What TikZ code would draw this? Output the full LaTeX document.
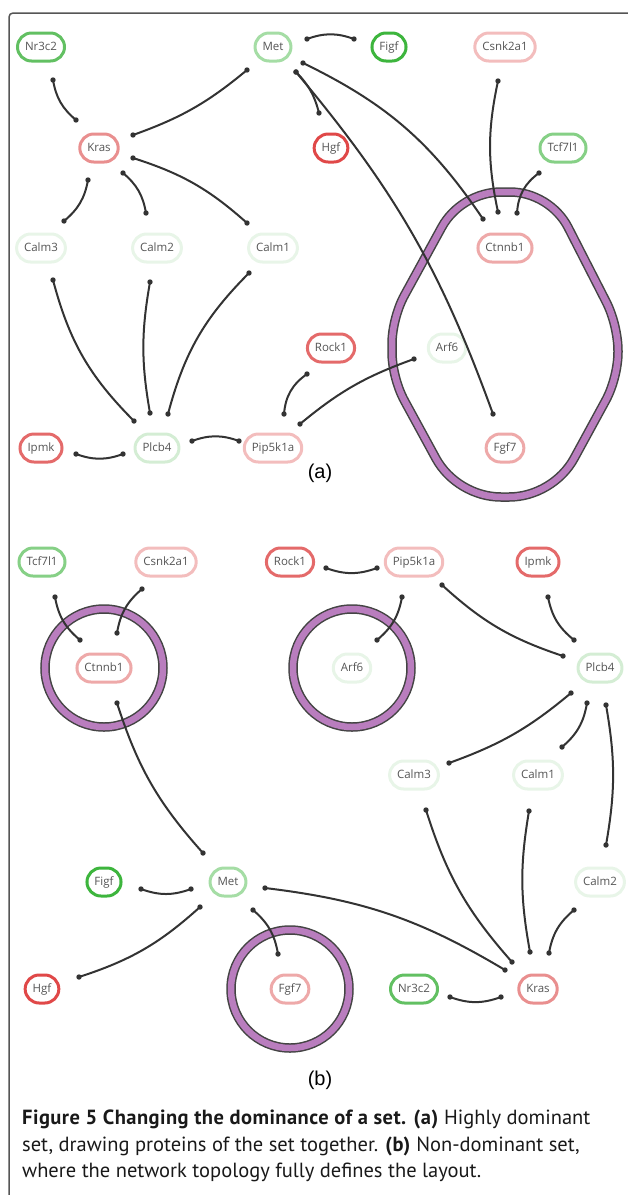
\documentclass[tikz,border=0pt]{standalone}
\usepackage{fontspec}
\usetikzlibrary{calc}
\newfontfamily\nodefont{Open Sans}
\newfontfamily\capfont[BoldFeatures={LetterSpace=2.2}]{PT Sans}
\newfontfamily\labfont{Liberation Sans}
\definecolor{gStrong}{HTML}{3DB53D}
\definecolor{gMid}{HTML}{62C062}
\definecolor{gTcf}{HTML}{86D086}
\definecolor{gLight}{HTML}{A5DDA5}
\definecolor{gPale}{HTML}{D4EDD4}
\definecolor{gVery}{HTML}{E8F5E8}
\definecolor{rStrong}{HTML}{E04848}
\definecolor{rMid}{HTML}{E46A6A}
\definecolor{rPink}{HTML}{E98F8F}
\definecolor{rPink2}{HTML}{EEA9A9}
\definecolor{rPale}{HTML}{F3BDBD}
\definecolor{txt}{HTML}{555555}
\definecolor{edgec}{HTML}{333333}
\definecolor{ringdark}{HTML}{444444}
\definecolor{ringpurple}{RGB}{185,125,190}
\definecolor{framec}{HTML}{555555}
\tikzset{
  prot/.style={draw=#1, line width=3pt, rounded corners=14pt, fill=white,
    minimum height=28pt, inner xsep=7.5pt, inner ysep=0pt, text=txt,
    text height=8.5pt, text depth=2.5pt,
    font=\nodefont\fontsize{11.5}{13}\selectfont},
  edge/.style={draw=edgec, line width=2pt},
  enddot/.style={fill=edgec},
  ringout/.style={draw=ringdark, line width=9.5pt},
  ringin/.style={draw=ringpurple, line width=6.5pt},
  panlab/.style={font=\labfont\fontsize{20}{24}\selectfont, text=black},
  capline/.style={anchor=base west, inner sep=0pt, text=black!90, font=\capfont\fontsize{20.5}{24}\selectfont}
}
\newcommand\lnk[3]{%
  \draw[edge] #1 to[#2] #3;
  \fill[enddot] #1 circle[radius=2.7];
  \fill[enddot] #3 circle[radius=2.7];}
\newcommand\rc[3]{(#1) .. controls ($(#1)!0.6!(#2)$) and ($(#3)!0.6!(#2)$) .. (#3)}
\begin{document}
\begin{tikzpicture}[x=1pt,y=-1pt]
\useasboundingbox (0,0) rectangle (627,1195);
% frame
\draw[framec, line width=1.5pt, rounded corners=4pt] (9,1196) -- (9,13) -- (628,13);

% ===== rings =====
\def\ringA{\rc{441.8,227.1}{461,192}{501,192} -- \rc{510,192}{550,192}{568.2,227.6}
  -- \rc{606.2,301.9}{618,325}{618,351} -- \rc{618,352}{618,378}{605.5,400.8}
  -- \rc{574.1,458.4}{553,497}{509,497} -- \rc{501,497}{457,497}{435.9,458.4}
  -- \rc{404.5,400.8}{392,378}{392,352} -- \rc{392,344}{392,318}{404.5,295.2} -- cycle}
\draw[ringout] \ringA;
\draw[ringin] \ringA;
\foreach \c in {(104,668),(352,668),(290,989)}{
  \draw[ringout] \c circle[radius=59];
  \draw[ringin] \c circle[radius=59];
}

% ===== panel (a) nodes =====
\node[prot=gMid]    (aNr)   at (41,47)  {Nr3c2};
\node[prot=gLight]  (aMet)  at (273,47) {Met};
\node[prot=gStrong] (aFigf) at (389,47) {Figf};
\node[prot=rPale]   (aCsnk) at (505,47) {Csnk2a1};
\node[prot=rPink]   (aKras) at (99,148) {Kras};
\node[prot=rStrong] (aHgf)  at (331,148) {Hgf};
\node[prot=gTcf]    (aTcf)  at (563,148) {Tcf7l1};
\node[prot=gVery]   (aCalmC) at (41,248) {Calm3};
\node[prot=gVery]   (aCalmB) at (157,248) {Calm2};
\node[prot=gVery]   (aCalmA) at (273,248) {Calm1};
\node[prot=rPink2]  (aCtn)  at (505,248) {Ctnnb1};
\node[prot=rMid]    (aRock) at (331,348) {Rock1};
\node[prot=gVery]   (aArf)  at (447,348) {Arf6};
\node[prot=rMid]    (aIpmk) at (41,448) {Ipmk};
\node[prot=gPale]   (aPlc)  at (157,448) {Plcb4};
\node[prot=rPale]   (aPip)  at (273,448) {Pip5k1a};
\node[prot=rPink2]  (aFgf)  at (505,448) {Fgf7};
\node[panlab] (labA) at (320,473) {(a)};

% ===== panel (a) edges =====
\lnk{($(aNr)+(12,33)$)}{bend right=20}{($(aKras)+(-23,-28)$)}
\lnk{($(aMet)+(-26,23)$)}{bend left=10}{($(aKras)+(34,-13)$)}
\lnk{($(aKras)+(-11,32)$)}{bend left=20}{($(aCalmC)+(23,-27)$)}
\lnk{($(aKras)+(24,25)$)}{bend left=20}{($(aCalmB)+(-11,-35)$)}
\lnk{($(aKras)+(34,10)$)}{bend left=12}{($(aCalmA)+(-26,-25)$)}
\lnk{($(aMet)+(34,-8)$)}{bend left=20}{($(aFigf)+(-35,-8)$)}
\lnk{($(aMet)+(23,25)$)}{bend left=15}{($(aHgf)+(-12,-35)$)}
\lnk{($(aMet)+(30,16)$)}{bend left=15}{($(aCtn)+(-22,-29)$)}
\lnk{($(aMet)+(23,25)$)}{bend left=10}{($(aFgf)+(-12,-34)$)}
\lnk{($(aCsnk)+(-7,34)$)}{bend right=12}{($(aCtn)+(-7,-36)$)}
\lnk{($(aTcf)+(-24,25)$)}{bend right=25}{($(aCtn)+(12,-35)$)}
\lnk{($(aCalmC)+(12,32)$)}{bend right=15}{($(aPlc)+(-23,-27)$)}
\lnk{($(aCalmB)+(-7,34)$)}{bend right=10}{($(aPlc)+(-7,-35)$)}
\lnk{($(aCalmA)+(-24,25)$)}{bend right=15}{($(aPlc)+(11,-34)$)}
\lnk{($(aIpmk)+(35,6)$)}{bend right=20}{($(aPlc)+(-34,6)$)}
\lnk{($(aPlc)+(35,-7)$)}{bend left=20}{($(aPip)+(-34,-7)$)}
\lnk{($(aRock)+(-24,26)$)}{bend right=25}{($(aPip)+(11,-34)$)}
\lnk{($(aPip)+(27,-24)$)}{bend left=10}{($(aArf)+(-33,11)$)}

% ===== panel (b) nodes =====
\node[prot=gTcf]    (bTcf)  at (42,562)  {Tcf7l1};
\node[prot=rPale]   (bCsnk) at (166,562) {Csnk2a1};
\node[prot=rMid]    (bRock) at (290,562) {Rock1};
\node[prot=rPale]   (bPip)  at (414,562) {Pip5k1a};
\node[prot=rMid]    (bIpmk) at (538,562) {Ipmk};
\node[prot=rPink2]  (bCtn)  at (104,668) {Ctnnb1};
\node[prot=gVery]   (bArf)  at (352,668) {Arf6};
\node[prot=gPale]   (bPlc)  at (600,668) {Plcb4};
\node[prot=gVery]   (bCalmC) at (414,775) {Calm3};
\node[prot=gVery]   (bCalmA) at (538,775) {Calm1};
\node[prot=gStrong] (bFigf) at (104,882) {Figf};
\node[prot=gLight]  (bMet)  at (228,882) {Met};
\node[prot=gVery]   (bCalmB) at (600,882) {Calm2};
\node[prot=rStrong] (bHgf)  at (42,989)  {Hgf};
\node[prot=rPink2]  (bFgf)  at (290,989) {Fgf7};
\node[prot=gMid]    (bNr)   at (414,989) {Nr3c2};
\node[prot=rPink]   (bKras) at (538,989) {Kras};
\node[panlab] (labB) at (320,1080) {(b)};

% ===== panel (b) edges =====
\lnk{($(bTcf)+(13,35)$)}{bend right=20}{($(bCtn)+(-24,-28)$)}
\lnk{($(bCsnk)+(-24,27)$)}{bend right=20}{($(bCtn)+(13,-35)$)}
\lnk{($(bCtn)+(13,35)$)}{bend right=12}{($(bMet)+(-25,-29)$)}
\lnk{($(bRock)+(36,6)$)}{bend right=20}{($(bPip)+(-37,6)$)}
\lnk{($(bPip)+(-12,35)$)}{bend left=20}{($(bArf)+(25,-28)$)}
\lnk{($(bPip)+(28,23)$)}{bend right=12}{($(bPlc)+(-37,-12)$)}
\lnk{($(bIpmk)+(10,35)$)}{bend right=20}{($(bPlc)+(-26,-28)$)}
\lnk{($(bPlc)+(-29,25)$)}{bend left=10}{($(bCalmC)+(35,-12)$)}
\lnk{($(bPlc)+(-13,35)$)}{bend left=20}{($(bCalmA)+(24,-28)$)}
\lnk{($(bPlc)+(6,37)$)}{bend left=10}{($(bCalmB)+(6,-37)$)}
\lnk{($(bCalmC)+(12,35)$)}{bend right=12}{($(bKras)+(-26,-27)$)}
\lnk{($(bCalmA)+(-9,36)$)}{bend right=10}{($(bKras)+(-8,-37)$)}
\lnk{($(bCalmB)+(-26,28)$)}{bend right=20}{($(bKras)+(11,-36)$)}
\lnk{($(bMet)+(37,6)$)}{bend left=12}{($(bKras)+(-33,-19)$)}
\lnk{($(bFigf)+(37,7)$)}{bend right=20}{($(bMet)+(-37,7)$)}
\lnk{($(bMet)+(-28,25)$)}{bend left=12}{($(bHgf)+(37,-12)$)}
\lnk{($(bMet)+(25,28)$)}{bend left=20}{($(bFgf)+(-12,-35)$)}
\lnk{($(bNr)+(36,8)$)}{bend right=20}{($(bKras)+(-37,8)$)}

% ===== caption =====
\node[capline] (cap1) at (22,1124) {\textbf{Figure 5 Changing the dominance of a set. (a)} Highly dominant};
\node[capline] (cap2) at (22,1151) {set, drawing proteins of the set together. \textbf{(b)} Non-dominant set,};
\node[capline] (cap3) at (22,1177) {where the network topology fully defines the layout.};
\end{tikzpicture}
\end{document}
